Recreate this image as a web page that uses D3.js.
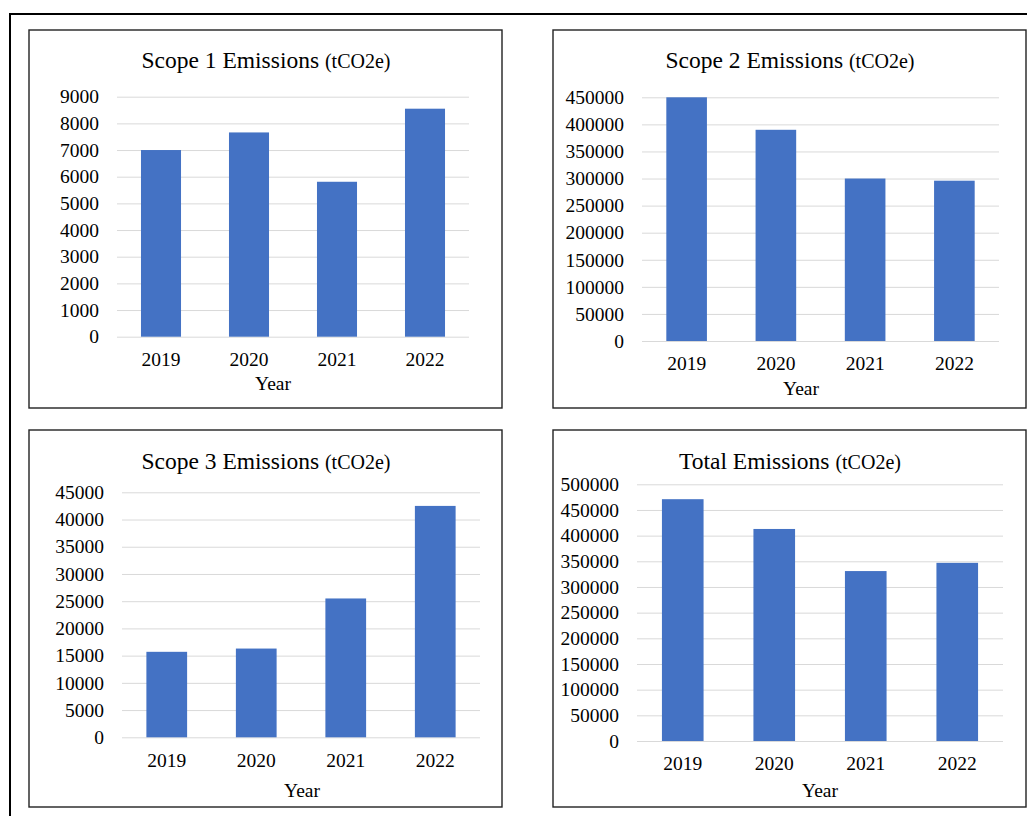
<!DOCTYPE html>
<html>
<head>
<meta charset="utf-8">
<script src="https://cdn.jsdelivr.net/npm/d3@7"></script>
<style>
  html, body { margin: 0; padding: 0; background: #fff; }
  svg { display: block; }
</style>
</head>
<body>
<script>
// ---- Data ----
const years = ["2019", "2020", "2021", "2022"];
const scope1Values = [7000, 7660, 5810, 8550];
const scope2Values = [450000, 390000, 300000, 296000];
const scope3Values = [15700, 16300, 25500, 42500];
const totalValues = [471000, 413000, 331000, 347000];

const scope1Ticks = [0, 1000, 2000, 3000, 4000, 5000, 6000, 7000, 8000, 9000];
const scope2Ticks = [0, 50000, 100000, 150000, 200000, 250000, 300000, 350000, 400000, 450000];
const scope3Ticks = [0, 5000, 10000, 15000, 20000, 25000, 30000, 35000, 40000, 45000];
const totalTicks = [0, 50000, 100000, 150000, 200000, 250000, 300000, 350000, 400000, 450000, 500000];

const titles = ["Scope 1 Emissions", "Scope 2 Emissions", "Scope 3 Emissions", "Total Emissions"];
const unitLabel = "(tCO2e)";
const xAxisTitle = "Year";

// ---- Layout ----
const W = 1027, H = 816;
const FONT = "'Liberation Serif', 'Times New Roman', serif";
const BAR = "#4472C4";

const panels = [
  { title: titles[0], values: scope1Values, ticks: scope1Ticks,
    box: [29, 30, 502, 408], px: [117, 469], py: [96.7, 336.7],
    titleX: 266, titleY: 68, yearTitleX: 273, yearTitleY: 390 },
  { title: titles[1], values: scope2Values, ticks: scope2Ticks,
    box: [553, 30, 1026, 408], px: [642, 999], py: [97.3, 341],
    titleX: 790, titleY: 68, yearTitleX: 801, yearTitleY: 395 },
  { title: titles[2], values: scope3Values, ticks: scope3Ticks,
    box: [29, 430, 502, 807], px: [122, 480], py: [492.3, 737.3],
    titleX: 266, titleY: 469, yearTitleX: 302, yearTitleY: 797 },
  { title: titles[3], values: totalValues, ticks: totalTicks,
    box: [553, 430, 1026, 807], px: [637, 1003], py: [484.3, 741],
    titleX: 790, titleY: 469, yearTitleX: 820, yearTitleY: 797 }
];

const svg = d3.select("body").append("svg")
  .attr("width", W).attr("height", H);

svg.append("rect").attr("width", W).attr("height", H).attr("fill", "#fff");

// outer frame
svg.append("rect")
  .attr("x", 10).attr("y", 14)
  .attr("width", 1040).attr("height", 830)
  .attr("fill", "none").attr("stroke", "#000").attr("stroke-width", 2);

panels.forEach(p => {
  const g = svg.append("g");
  const [x0, y0, x1, y1] = p.box;

  g.append("rect")
    .attr("x", x0).attr("y", y0)
    .attr("width", x1 - x0).attr("height", y1 - y0)
    .attr("fill", "#fff").attr("stroke", "#222").attr("stroke-width", 1.4);

  const x = d3.scaleBand().domain(years).range(p.px)
    .paddingInner(0.545).paddingOuter(0.2725);
  const yMax = p.ticks[p.ticks.length - 1];
  const y = d3.scaleLinear().domain([0, yMax]).range([p.py[1], p.py[0]]);

  // y axis with gridlines
  const yAxis = d3.axisLeft(y).tickValues(p.ticks)
    .tickSize(-(p.px[1] - p.px[0])).tickPadding(18)
    .tickFormat(d => String(d));
  const ya = g.append("g").attr("transform", `translate(${p.px[0]},0)`).call(yAxis);
  ya.select(".domain").remove();
  ya.selectAll(".tick line").attr("stroke", "#d9d9d9").attr("stroke-width", 1);
  ya.selectAll(".tick text")
    .attr("font-family", FONT).attr("font-size", 19.5).attr("fill", "#000");

  // bars
  g.selectAll("rect.bar").data(p.values).enter().append("rect")
    .attr("class", "bar")
    .attr("x", (d, i) => x(years[i]))
    .attr("width", x.bandwidth())
    .attr("y", d => y(d))
    .attr("height", d => y(0) - y(d))
    .attr("fill", BAR);

  // x axis
  const xAxis = d3.axisBottom(x).tickSize(0).tickPadding(15.5);
  const xa = g.append("g").attr("transform", `translate(0,${p.py[1]})`).call(xAxis);
  xa.select(".domain").remove();
  xa.selectAll(".tick text")
    .attr("font-family", FONT).attr("font-size", 19.5).attr("fill", "#000");

  // title
  const t = g.append("text")
    .attr("x", p.titleX).attr("y", p.titleY)
    .attr("text-anchor", "middle")
    .attr("font-family", FONT).attr("fill", "#000");
  t.append("tspan").attr("font-size", 23.5).text(p.title + " ");
  t.append("tspan").attr("font-size", 20).text(unitLabel);

  // x axis title
  g.append("text")
    .attr("x", p.yearTitleX).attr("y", p.yearTitleY)
    .attr("text-anchor", "middle")
    .attr("font-family", FONT).attr("font-size", 19.5).attr("fill", "#000")
    .text(xAxisTitle);
});
</script>
</body>
</html>
